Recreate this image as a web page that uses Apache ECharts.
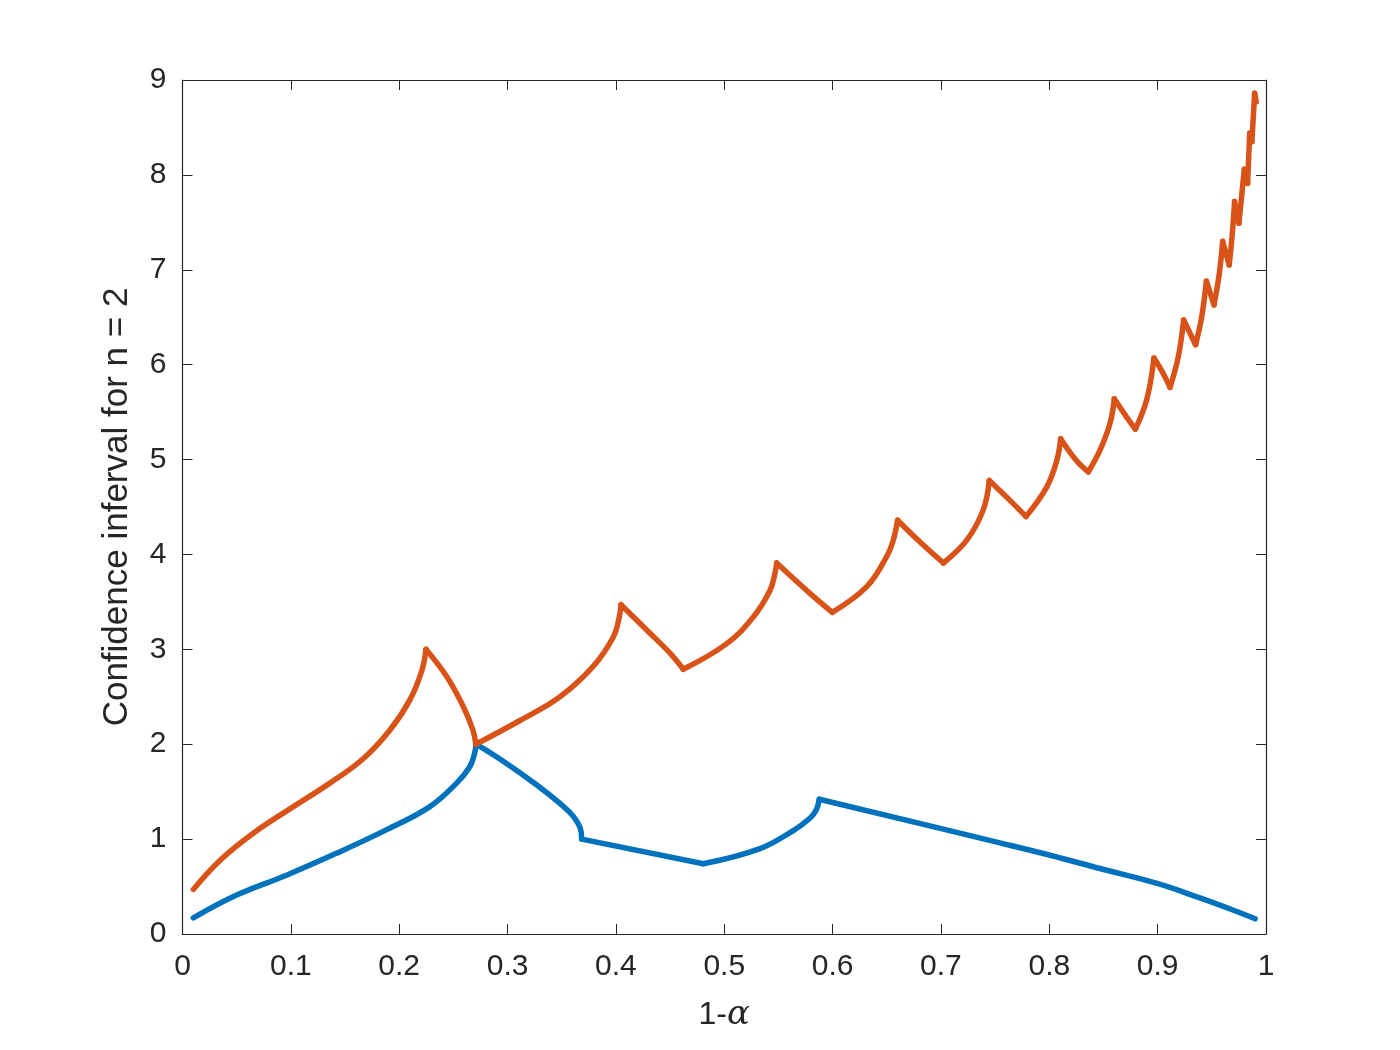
<!DOCTYPE html>
<html>
<head>
<meta charset="utf-8">
<script src="https://cdn.jsdelivr.net/npm/echarts@6/dist/echarts.min.js"></script>
<style>
html,body{margin:0;padding:0;background:#fff;}
#chart{width:1400px;height:1050px;}
</style>
</head>
<body>
<div id="chart"></div>
<script>
// Upper bound (orange)
var upperX = [0.010,0.035,0.065,0.102,0.136,0.167,0.1915,0.210,0.221,0.2247,
  0.244,0.259,0.268,0.2707,0.3115,0.3484,0.379,0.3976,0.4031,0.4047,
  0.4315,0.4499,0.4622,0.5023,0.5268,0.5422,0.5468,0.5484,
  0.5791,0.5997,0.6315,0.650,0.656,0.660,
  0.6807,0.7022,0.7238,0.739,0.7446,
  0.7637,0.7785,0.7976,0.8069,0.8105,
  0.825,0.836,0.8468,0.856,0.860,
  0.8712,0.8794,0.8899,0.8966,
  0.905,0.9114,0.919,0.924,
  0.935,0.9406,0.945,
  0.952,0.9569,0.960,
  0.966,0.9689,0.971,
  0.975,0.980,0.983,0.985,0.987,0.9895,0.991];
var upperY = [0.47,0.78,1.06,1.34,1.59,1.85,2.15,2.47,2.78,3.00,
  2.71,2.40,2.15,2.00,2.25,2.50,2.82,3.13,3.34,3.47,
  3.17,2.96,2.79,3.06,3.34,3.62,3.80,3.91,
  3.59,3.39,3.66,3.98,4.15,4.36,
  4.13,3.91,4.15,4.47,4.78,
  4.57,4.40,4.71,4.99,5.22,
  4.99,4.87,5.10,5.38,5.64,
  5.45,5.32,5.63,6.07,
  5.91,5.76,6.08,6.47,
  6.21,6.50,6.88,
  6.63,6.96,7.30,
  7.05,7.38,7.72,
  7.49,8.06,7.91,8.44,8.35,8.86,8.77];

// Lower bound (blue)
var lowerX = [0.010,0.050,0.096,0.142,0.1885,0.228,0.253,0.265,0.2695,0.2710,
  0.296,0.327,0.350,0.3607,0.3675,0.3684,0.4807,0.533,0.5637,0.579,0.585,0.5877,
  0.7545,0.8007,0.8468,0.9003,0.939,0.970,0.990];
var lowerY = [0.17,0.41,0.62,0.85,1.10,1.34,1.59,1.76,1.90,2.00,
  1.82,1.57,1.36,1.24,1.10,1.00,0.74,0.90,1.09,1.22,1.31,1.42,
  0.96,0.83,0.69,0.53,0.38,0.25,0.16];

var xTickLabels = ['0','0.1','0.2','0.3','0.4','0.5','0.6','0.7','0.8','0.9','1'];
var yTickLabels = ['0','1','2','3','4','5','6','7','8','9'];

var yAxisName = 'Confidence inferval for n = 2';

// Split a polyline into smooth pieces at its kinks (local extrema or sharp turns),
// so every piece can be drawn smoothly while the kinks stay sharp.
function splitAtKinks(xs, ys){
  var sx = 1083.5, sy = 94.9; // approximate px per unit, only used to measure turning angles
  var pieces = [], cur = [[xs[0], ys[0]]];
  for (var i = 1; i < xs.length; i++){
    cur.push([xs[i], ys[i]]);
    if (i < xs.length - 1){
      var d0y = ys[i] - ys[i-1], d1y = ys[i+1] - ys[i];
      var a0 = Math.atan2(d0y*sy, (xs[i]-xs[i-1])*sx);
      var a1 = Math.atan2(d1y*sy, (xs[i+1]-xs[i])*sx);
      var turn = Math.abs(a1 - a0) * 180 / Math.PI;
      if (d0y * d1y < 0 || turn > 40){
        pieces.push(cur);
        cur = [[xs[i], ys[i]]];
      }
    }
  }
  pieces.push(cur);
  return pieces;
}

var axisColor = '#262626';
var fontFam = '"Liberation Sans", Arial, Helvetica, sans-serif';

function makeSeries(xs, ys, color){
  return splitAtKinks(xs, ys).map(function(piece){
    return {
      type:'line', xAxisIndex:0, yAxisIndex:0, data:piece,
      showSymbol:false, symbol:'none', smooth:0.4,
      lineStyle:{color:color, width:5.5, cap:'round', join:'round'},
      silent:true
    };
  });
}

var chart = echarts.init(document.getElementById('chart'), null, {renderer:'canvas'});
var baseTick = {show:true, inside:true, length:10, lineStyle:{color:axisColor, width:1}};
var baseLine = {show:true, onZero:false, lineStyle:{color:axisColor, width:1.2}};

chart.setOption({
  animation:false,
  backgroundColor:'#ffffff',
  grid:{left:182.5, right:134, top:80, bottom:116, containLabel:false},
  xAxis:[{
    type:'value', min:0, max:1, interval:0.1, position:'bottom',
    axisLine:baseLine, axisTick:baseTick, splitLine:{show:false},
    axisLabel:{show:true, margin:18, color:axisColor, fontSize:30, fontFamily:fontFam,
      formatter:function(v){ return xTickLabels[Math.round(v*10)]; }},
    name:'{a|1-}{b|α}', nameLocation:'middle', nameGap:64,
    nameTextStyle:{rich:{
      a:{fontSize:32, color:axisColor, fontFamily:fontFam},
      b:{fontSize:34, color:axisColor, fontFamily:'"DejaVu Serif","Liberation Serif",serif', fontStyle:'italic'}
    }}
  },{
    type:'value', min:0, max:1, interval:0.1, position:'top',
    axisLine:baseLine, axisTick:baseTick, axisLabel:{show:false}, splitLine:{show:false}
  }],
  yAxis:[{
    type:'value', min:0, max:9, interval:1, position:'left',
    axisLine:baseLine, axisTick:baseTick, splitLine:{show:false},
    axisLabel:{show:true, margin:16, color:axisColor, fontSize:30, fontFamily:fontFam,
      formatter:function(v){ return yTickLabels[Math.round(v)]; }},
    name:yAxisName, nameLocation:'middle', nameGap:48, nameRotate:90,
    nameTextStyle:{fontSize:35, color:axisColor, fontFamily:fontFam}
  },{
    type:'value', min:0, max:9, interval:1, position:'right',
    axisLine:baseLine, axisTick:baseTick, axisLabel:{show:false}, splitLine:{show:false}
  }],
  series: makeSeries(lowerX, lowerY, '#0072BD').concat(makeSeries(upperX, upperY, '#D95319'))
});
</script>
</body>
</html>
